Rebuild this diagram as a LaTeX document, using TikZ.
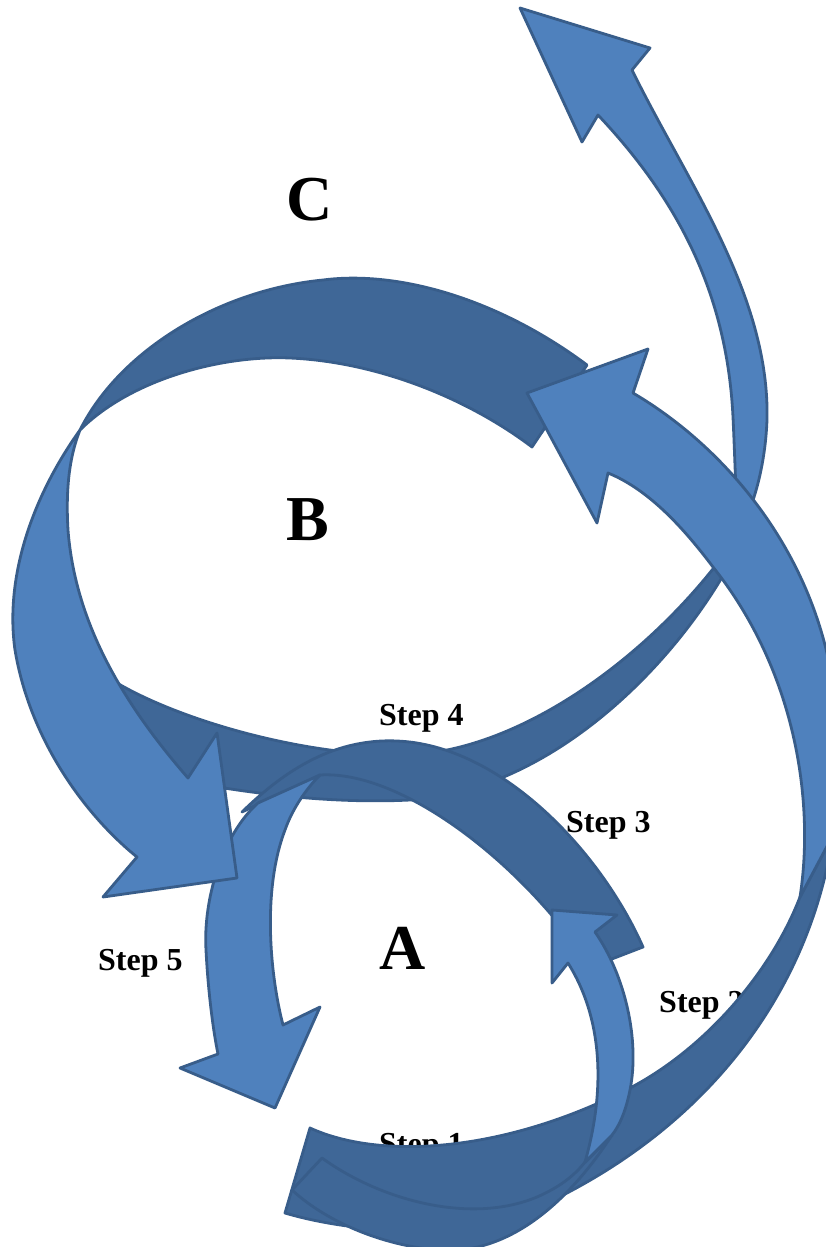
\documentclass[tikz,border=0pt]{standalone}
\usepackage{fontspec}
\setmainfont{Liberation Serif}
\definecolor{arrowlight}{HTML}{4F81BD}
\definecolor{arrowdark}{HTML}{3F6797}
\definecolor{arrowedge}{HTML}{385D8A}
\tikzset{
  front/.style={fill=arrowlight, draw=arrowedge, line width=2.8pt, line join=round},
  back/.style={fill=arrowdark, draw=arrowedge, line width=2.8pt, line join=round},
  steplabel/.style={font=\bfseries\fontsize{32}{36}\selectfont, anchor=base west, inner sep=0pt},
  biglabel/.style={font=\bfseries\fontsize{64}{72}\selectfont, anchor=base west, inner sep=0pt}
}
\begin{document}
\begin{tikzpicture}[x=1pt,y=-1pt]
\useasboundingbox (0,0) rectangle (826,1247);
\clip (0,0) rectangle (826,1247);
\fill[white] (0,0) rectangle (826,1247);

% thin arrow: back face under B, front face rising to the top
\path[back] (738,535) .. controls (660,650) and (520,755) .. (400,755)
  .. controls (300,755) and (180,720) .. (117,683)
  -- (27,692) -- (95,780) -- (200,784)
  .. controls (280,798) and (350,803) .. (410,800)
  .. controls (560,790) and (690,650) .. (742,540) -- cycle;
\path[front] (738,535) .. controls (752,510) and (765,470) .. (767,420)
  .. controls (770,295) and (687,182) .. (632,70)
  -- (650,48) -- (520,8) -- (582,142) -- (598,115)
  .. controls (681,203) and (727,297) .. (733,417)
  .. controls (735,460) and (736,500) .. (738,535) -- cycle;

% arrow around A: arch on top, front face down the left side
\path[back] (643,947) .. controls (600,850) and (500,745) .. (397,741)
  .. controls (330,738) and (280,775) .. (242,812)
  -- (320,775)
  .. controls (400,770) and (520,860) .. (591,967) -- cycle;
\path[front] (320,775) -- (258,803)
  .. controls (222,835) and (203,900) .. (206,950)
  .. controls (208,990) and (213,1030) .. (218,1054)
  -- (180,1068) -- (275,1108) -- (320,1007) -- (283,1025)
  .. controls (270,975) and (262,890) .. (285,830)
  .. controls (292,810) and (305,790) .. (320,775) -- cycle;

% step labels
\node[steplabel] (s4) at (379,725) {Step 4};
\node[steplabel] (s3) at (566,832) {Step 3};
\node[steplabel] (s5) at (98,970) {Step 5};
\node[steplabel] (s2) at (659,1012) {Step 2};
\node[steplabel] (s1) at (379,1154) {Step 1};

% arrow around B: arch on top, front face down the left side
\path[back] (587,365) .. controls (500,300) and (400,270) .. (323,280)
  .. controls (220,290) and (120,350) .. (80,430)
  .. controls (130,380) and (220,355) .. (290,358)
  .. controls (380,362) and (470,400) .. (532,447) -- cycle;
\path[front] (80,430) .. controls (30,500) and (5,580) .. (15,650)
  .. controls (30,740) and (85,815) .. (137,857)
  -- (103,897) -- (237,878) -- (217,733) -- (188,778)
  .. controls (120,700) and (75,620) .. (68,530)
  .. controls (65,480) and (72,450) .. (80,430) -- cycle;

% large arrow: back face along the bottom, front face up the right side
\path[back] (833,835) .. controls (810,990) and (710,1125) .. (547,1203)
  .. controls (470,1240) and (360,1235) .. (285,1213)
  -- (310,1128)
  .. controls (380,1160) and (500,1152) .. (620,1093)
  .. controls (700,1055) and (770,975) .. (800,897) -- cycle;
\path[front] (527,393) -- (648,349) -- (633,393)
  .. controls (730,450) and (820,560) .. (835,700)
  .. controls (842,760) and (840,800) .. (833,835)
  -- (800,897)
  .. controls (815,800) and (795,670) .. (713,567)
  .. controls (685,530) and (650,490) .. (608,473)
  -- (597,523) -- cycle;

% small arrow: back face at the bottom, front face up the right of A
\path[back] (612,1135) .. controls (570,1200) and (510,1255) .. (440,1250)
  .. controls (390,1247) and (330,1225) .. (292,1190)
  -- (322,1158)
  .. controls (380,1200) and (470,1225) .. (537,1197)
  .. controls (560,1187) and (575,1175) .. (585,1162) -- cycle;
\path[front] (552,910) -- (617,915) -- (595,932)
  .. controls (625,975) and (640,1040) .. (630,1090)
  .. controls (626,1110) and (620,1125) .. (612,1135)
  -- (585,1162)
  .. controls (600,1110) and (610,1030) .. (568,963)
  -- (552,983) -- cycle;

% region letters
\node[biglabel] (la) at (379,969) {A};
\node[biglabel] (lb) at (286,540) {B};
\node[biglabel] (lc) at (286,220) {C};
\end{tikzpicture}
\end{document}
